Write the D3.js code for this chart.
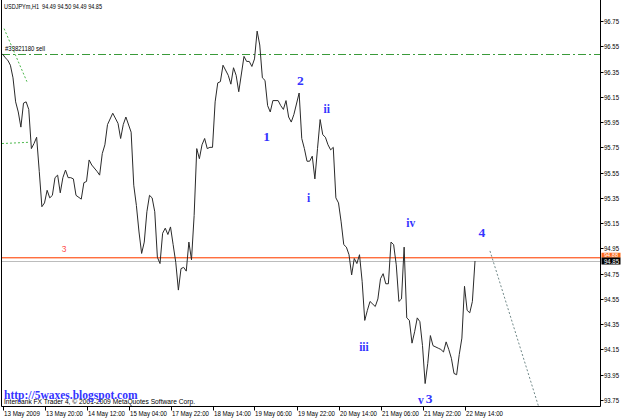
<!DOCTYPE html>
<html>
<head>
<meta charset="utf-8">
<script src="https://cdn.jsdelivr.net/npm/d3@7"></script>
<style>
  body { margin: 0; background: #fff; }
  svg { display: block; }
</style>
</head>
<body>
<div id="chart"></div>
<script>
// USDJPYm H1 closes, bar index counted from 13 May 04:00
const bars = [0,1,2,3,4,5,6,7,8,9,10,11,12,13,14,15,16,17,18,19,20,21,22,23,24,25,26,27,28,30,
  31,32,33,34,36,37,38,39,40,42,44,45,46,47,49,50,51,52,53,54,55,56,57,58,59,60,61,62,63,64,
  65,66,67,68,69,70,71,72,73,74,75,76,77,78,79,80,81,82,83,84,86,87,88,89,90,92,93,94,95,96,
  97,98,99,100,101,102,103,105,106,107,108,109,110,111,113,114,115,116,117,118,119,120,121,122,123,124,125,126,127,128,
  129,130,131,132,133,134,135,136,137,138,139,140,142,143,144,145,146,147,148,149,150,151,152,153,154,155,156,157,158,159,
  160,161,162,163,164,166,167,168,169,170,171,172,173,174,175,176,177,178,179,180];
const closes = [96.49,96.46,96.44,96.40,96.30,96.11,96.03,95.91,96.10,96.11,96.05,95.74,95.78,95.83,95.56,95.28,95.31,95.41,95.35,95.37,95.51,95.53,95.39,95.51,95.57,95.51,95.51,95.50,95.37,95.34,
  95.47,95.48,95.65,95.61,95.56,95.53,95.70,95.77,95.93,96.02,95.94,95.82,95.93,95.99,95.87,95.45,95.29,95.08,94.91,95.00,95.24,95.37,95.35,95.24,94.88,94.83,95.07,95.11,95.06,95.12,
  94.98,94.84,94.62,94.79,94.80,94.77,95.00,94.86,95.21,95.74,95.66,95.77,95.82,95.74,95.75,95.75,96.11,96.26,96.27,96.40,96.32,96.25,96.38,96.32,96.19,96.47,96.43,96.43,96.39,96.45,
  96.67,96.56,96.30,96.28,96.08,96.03,96.12,96.12,96.08,96.05,96.12,95.99,95.95,96.01,96.18,95.82,95.74,95.64,95.64,95.68,95.50,95.74,95.97,95.85,95.83,95.77,95.73,95.75,95.35,95.31,
  95.16,94.98,94.96,94.90,94.74,94.87,94.83,94.90,94.69,94.38,94.46,94.53,94.49,94.55,94.71,94.75,94.67,94.67,95.00,94.98,94.82,94.53,94.55,94.96,94.40,94.38,94.20,94.29,94.40,94.37,
  94.18,93.88,94.04,94.26,94.18,94.16,94.15,94.13,94.21,94.15,94.08,93.96,93.95,94.11,94.24,94.65,94.46,94.44,94.53,94.85];

const timeLabels = ["13 May 2009", "13 May 20:00", "14 May 12:00", "15 May 04:00", "17 May 22:00", "18 May 14:00",
  "19 May 06:00", "19 May 22:00", "20 May 14:00", "21 May 06:00", "21 May 22:00", "22 May 14:00"];
const timeLabelBars = [0, 16, 32, 48, 64, 80, 96, 112, 128, 144, 160, 176];
const priceTicks = [96.75, 96.55, 96.35, 96.15, 95.95, 95.75, 95.55, 95.35, 95.15, 94.95, 94.75, 94.55, 94.35, 94.15, 93.95, 93.75];

const sellPrice = 96.49;
const levelPrice = 94.88;
const bidPrice = 94.85;

// [text, bar, price]
const waveLabels = [["1", 100.6, 95.84], ["2", 113.5, 96.28], ["ii", 123.5, 96.05], ["i", 116.6, 95.35],
  ["iv", 155.5, 95.15], ["iii", 137.7, 94.17], ["v", 159.4, 93.75], ["3", 162.5, 93.76], ["4", 182.6, 95.08]];

const stopLines = [[[0.6, 96.69], [9.3, 96.27]], [[-0.2, 95.78], [10.2, 95.79]]];
const projection = [[185.7, 94.93], [204.5, 93.68]];

const width = 625;
const height = 418;
const left = 1.5, right = 600.5, bottom = 406.5;
const serif = "'Liberation Serif', 'Times New Roman', serif";

const x = d3.scaleLinear().domain([0, 176]).range([2.5, 464.5]);
const y = d3.scaleLinear().domain([93.75, 96.75]).range([400, 21]);

const svg = d3.select("#chart")
  .append("svg")
  .attr("width", width)
  .attr("height", height)
  .attr("font-family", "'Liberation Sans', Arial, sans-serif");

// the MT4 screen font is narrow, so squeeze glyphs to the measured width
function small(sel, size, len) {
  return sel.attr("font-size", size + "px")
    .attr("textLength", len)
    .attr("lengthAdjust", "spacingAndGlyphs");
}

svg.append("clipPath").attr("id", "plot")
  .append("rect").attr("x", left).attr("y", 0).attr("width", right - left).attr("height", bottom);

const plot = svg.append("g").attr("clip-path", "url(#plot)");

// horizontal levels
const hline = (price, color, off) => plot.append("line")
  .attr("x1", left).attr("x2", right)
  .attr("y1", Math.round(y(price)) + off).attr("y2", Math.round(y(price)) + off)
  .attr("stroke", color)
  .attr("shape-rendering", "crispEdges");

hline(sellPrice, "#3a9a3a", 0.5).attr("stroke-dasharray", "8,3,2,3");
hline(bidPrice, "#bcbcbc", 0.5);
hline(levelPrice, "#ffc2ac", 1.5);
hline(levelPrice, "#ff6f40", 0.5);

plot.append("text")
  .attr("x", x(23.5)).attr("y", y(levelPrice) - 5)
  .attr("text-anchor", "middle")
  .attr("font-size", "8.5px")
  .attr("fill", "#ff4d4d")
  .text("3");

const seg = d3.line().x(d => x(d[0])).y(d => y(d[1]));

plot.selectAll(".stop")
  .data(stopLines)
  .enter().append("path")
  .attr("d", seg)
  .attr("fill", "none")
  .attr("stroke", "#4cb84c")
  .attr("stroke-dasharray", "2,2");

plot.append("path")
  .attr("d", seg(projection))
  .attr("fill", "none")
  .attr("stroke", "#708888")
  .attr("stroke-dasharray", "2,2");

// price line
const series = bars.map((b, i) => [b, closes[i]]);
plot.append("path")
  .attr("d", seg(series))
  .attr("fill", "none")
  .attr("stroke", "#2a2a2a")
  .attr("stroke-width", 1);

small(plot.append("text"), 7.5, 40)
  .attr("x", 5).attr("y", y(sellPrice) - 2.5)
  .attr("fill", "#000")
  .text("#33821180 sell");

// wave counts
plot.selectAll(".wave")
  .data(waveLabels)
  .enter().append("text")
  .attr("x", d => x(d[1]))
  .attr("y", d => y(d[2]))
  .attr("dy", "0.34em")
  .attr("text-anchor", "middle")
  .attr("font-family", serif)
  .attr("font-weight", "bold")
  .attr("font-size", d => /\d/.test(d[0]) ? "13.5px" : "11.5px")
  .attr("fill", "#3434ff")
  .text(d => d[0]);

// frame
svg.append("path")
  .attr("d", `M${left},0V${bottom}H${right}V0`)
  .attr("fill", "none")
  .attr("stroke", "#000");

// time axis
const xt = svg.append("g");
timeLabelBars.forEach((b, i) => {
  const px = Math.round(x(b)) + 0.5;
  xt.append("line").attr("x1", px).attr("x2", px).attr("y1", bottom).attr("y2", bottom + 4).attr("stroke", "#000");
  small(xt.append("text"), 7.5, i === 0 ? 36 : 37)
    .attr("x", px + 0.5).attr("y", 415.5)
    .attr("fill", "#000")
    .text(timeLabels[i]);
});

// price axis
const yt = svg.append("g");
priceTicks.forEach(p => {
  const py = Math.round(y(p)) + 0.5;
  yt.append("line").attr("x1", right).attr("x2", right + 3).attr("y1", py).attr("y2", py).attr("stroke", "#000");
  small(yt.append("text"), 7.5, 15)
    .attr("x", 604).attr("y", py + 2.5)
    .attr("fill", "#000")
    .text(p.toFixed(2));
});

yt.append("rect")
  .attr("x", right + 1).attr("y", y(levelPrice) - 4.5)
  .attr("width", 19).attr("height", 5)
  .attr("fill", "#ff6a1a");
small(yt.append("text"), 5, 14)
  .attr("x", 604).attr("y", y(levelPrice) - 0.5)
  .attr("fill", "#fff")
  .text(levelPrice.toFixed(2));
yt.append("rect")
  .attr("x", right + 1).attr("y", y(bidPrice) - 3.5)
  .attr("width", 19).attr("height", 7)
  .attr("fill", "#000");
small(yt.append("text"), 7.5, 15)
  .attr("x", 604).attr("y", y(bidPrice) + 2.5)
  .attr("fill", "#fff")
  .text(bidPrice.toFixed(2));

// header and watermark
small(svg.append("text"), 7.5, 98)
  .attr("x", 4).attr("y", 9)
  .attr("fill", "#000")
  .attr("xml:space", "preserve")
  .style("white-space", "pre")
  .text("USDJPYm,H1  94.49 94.50 94.49 94.85");

small(svg.append("text"), 7.5, 191)
  .attr("x", 4).attr("y", 403.5)
  .attr("fill", "#000")
  .text("Interbank FX Trader 4, \u00a9 2001-2009 MetaQuotes Software Corp.");

svg.append("text")
  .attr("x", 4).attr("y", 399)
  .attr("font-family", serif)
  .attr("font-weight", "bold")
  .attr("font-size", "11.5px")
  .attr("fill", "#3434ff")
  .text("http://5waxes.blogspot.com");
</script>
</body>
</html>
